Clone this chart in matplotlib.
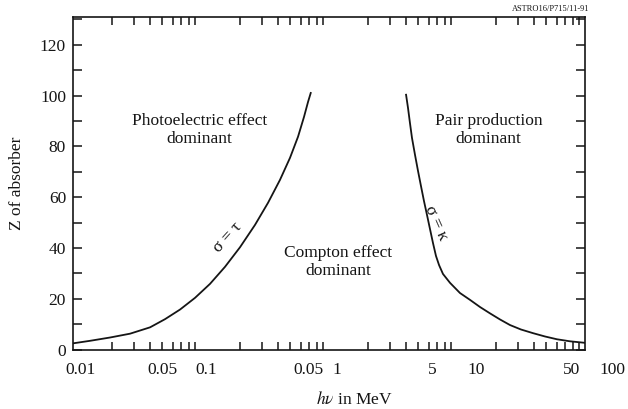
import matplotlib
matplotlib.use("Agg")
import matplotlib.pyplot as plt
import matplotlib.transforms as mtransforms
from matplotlib.ticker import FixedLocator, LogLocator, NullFormatter, MultipleLocator

# ---- data ----
# photoelectric / Compton boundary  (sigma = tau)
photo_E = [0.01, 0.0136, 0.0195, 0.0279, 0.040, 0.0523, 0.0686, 0.0898,
           0.1176, 0.154, 0.2017, 0.2642, 0.334, 0.414, 0.496, 0.573,
           0.638, 0.686, 0.72]
photo_Z = [2.5, 3.5, 4.8, 6.3, 8.8, 12.0, 15.8, 20.4,
           25.9, 32.6, 40.3, 49.1, 57.8, 66.8, 75.5, 83.8,
           91.6, 97.5, 101.0]
# Compton / pair-production boundary (sigma = kappa)
pair_E = [4.00, 4.14, 4.29, 4.45, 4.70, 4.96, 5.23, 5.52, 5.83, 6.15,
          6.49, 6.85, 7.24, 7.77, 8.82, 10.55, 12.64, 15.12, 18.1, 21.67,
          25.95, 31.6, 39.3, 48.7, 60.4, 76.4, 100.0]
pair_Z = [100.3, 95.2, 89.2, 83.3, 76.6, 70.3, 64.4, 58.5, 53.0, 47.5,
          42.0, 36.9, 33.3, 29.8, 26.3, 22.3, 19.6, 16.8, 14.3, 11.9,
          9.7, 7.95, 6.5, 5.2, 4.1, 3.3, 2.7]

x_tick_values = [0.01, 0.05, 0.1, 0.5, 1, 5, 10, 50, 100]
x_tick_labels = ["0.01", "0.05", "0.1", "0.05", "1", "5", "10", "50", "100"]
y_ticks = [0, 20, 40, 60, 80, 100, 120]

region_labels = ["Photoelectric effect\ndominant",
                 "Compton effect\ndominant",
                 "Pair production\ndominant"]
curve_labels = ["σ = τ", "σ = κ"]

# layout: the scanned original prints its x labels slightly right of the ticks
x_label_shift_px = [7, 0, 5, 18, 8, 14, 19, 25, 27]

# ---- style ----
plt.rcParams["font.family"] = ["Liberation Serif", "DejaVu Serif"]
plt.rcParams["mathtext.fontset"] = "stix"
ink = "#151515"

fig = plt.figure(figsize=(6.28, 4.09), dpi=100)
ax = fig.add_axes([73 / 628, 1 - 349.7 / 409, 512 / 628, 333 / 409])

ax.plot(photo_E, photo_Z, color=ink, lw=1.3, solid_joinstyle="round")
ax.plot(pair_E, pair_Z, color=ink, lw=1.3, solid_joinstyle="round")

ax.set_xscale("log")
ax.set_xlim(0.01, 100)
ax.set_ylim(0, 131)

ax.xaxis.remove_overlapping_locs = False
ax.xaxis.set_major_locator(FixedLocator(x_tick_values))
ax.set_xticklabels(x_tick_labels)
ax.xaxis.set_minor_locator(LogLocator(base=10, subs=[2, 3, 4, 5, 6, 7, 8, 9]))
ax.xaxis.set_minor_formatter(NullFormatter())
ax.tick_params(axis="x", which="major", length=0, pad=9, labelsize=12.5,
               labelcolor=ink, top=True)
ax.tick_params(axis="x", which="minor", direction="in", length=6, width=1.1,
               color=ink, top=True, bottom=True)

ax.set_yticks(y_ticks)
ax.yaxis.set_minor_locator(MultipleLocator(10))
ax.tick_params(axis="y", which="both", direction="in", length=6.5, width=1.1,
               color=ink, left=True, right=True, labelsize=12.5,
               labelcolor=ink, pad=5)

for s in ax.spines.values():
    s.set_linewidth(1.2)
    s.set_color(ink)

for tick, shift in zip(ax.xaxis.get_major_ticks(), x_label_shift_px):
    lab = tick.label1
    lab.set_transform(lab.get_transform() +
                      mtransforms.ScaledTranslation(shift / 100, 0,
                                                    fig.dpi_scale_trans))

ax.set_xlabel(r"$h\nu$ in MeV", fontsize=12.5, color=ink)
ax.xaxis.set_label_coords(0.549, -0.125)
ax.set_ylabel("Z of absorber", fontsize=12.5, color=ink)
ax.yaxis.set_label_coords(-0.094, 0.5)

# region texts (positions in axes fraction)
ax.text(0.247, 0.66, region_labels[0], transform=ax.transAxes, ha="center",
        va="center", fontsize=12.5, color=ink, linespacing=1.15)
ax.text(0.518, 0.263, region_labels[1], transform=ax.transAxes, ha="center",
        va="center", fontsize=12.5, color=ink, linespacing=1.15)
ax.text(0.812, 0.66, region_labels[2], transform=ax.transAxes, ha="center",
        va="center", fontsize=12.5, color=ink, linespacing=1.15)

ax.text(0.303, 0.338, curve_labels[0], transform=ax.transAxes, ha="center",
        va="center", fontsize=12.5, color=ink, rotation=48)
ax.text(0.71, 0.38, curve_labels[1], transform=ax.transAxes, ha="center",
        va="center", fontsize=12.5, color=ink, rotation=-66)

fig.text(589 / 628, 1 - 9 / 409, "ASTRO16/P715/11-91", ha="right", va="center",
         fontsize=6, color=ink)

fig.savefig("out.png", dpi=100, facecolor="white")
